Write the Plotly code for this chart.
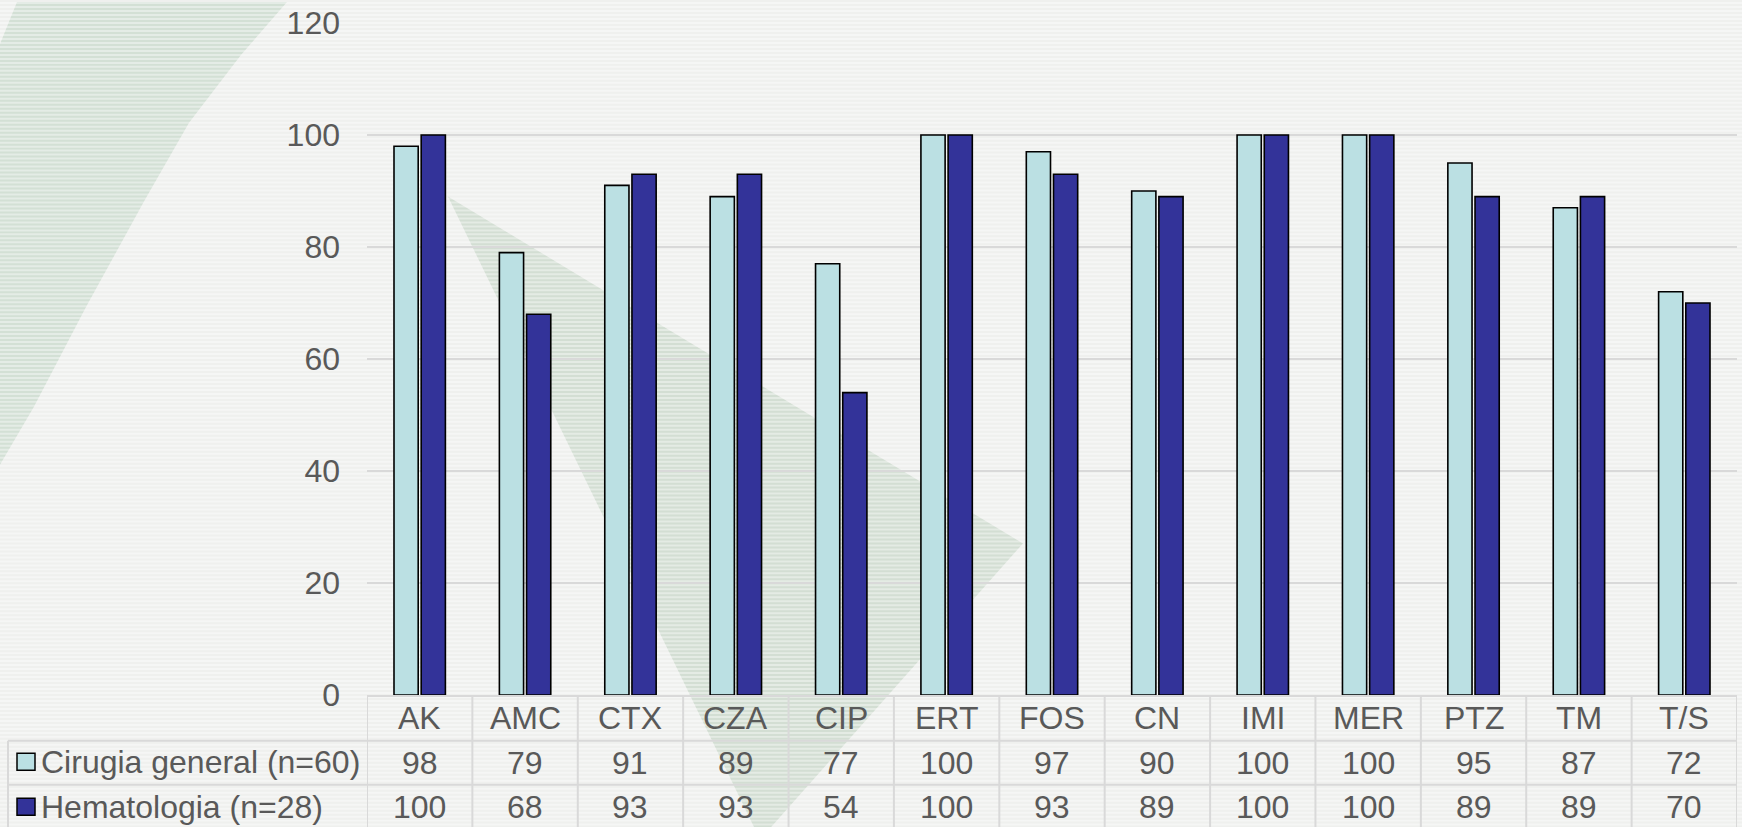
import plotly.graph_objects as go

categories = ["AK", "AMC", "CTX", "CZA", "CIP", "ERT", "FOS", "CN", "IMI", "MER", "PTZ", "TM", "T/S"]
series_names = ["Cirugia general (n=60)", "Hematologia (n=28)"]
cirugia = [98, 79, 91, 89, 77, 100, 97, 90, 100, 100, 95, 87, 72]
hemato = [100, 68, 93, 93, 54, 100, 93, 89, 100, 100, 89, 89, 70]
y_ticks = [0, 20, 40, 60, 80, 100, 120]

W, H = 1742, 827
L, R, T, B = 367, 5, 21, 132
PW = W - L - R
PH = H - T - B
FONT = "Liberation Sans, Arial, sans-serif"
FS = 32
TXT = "#595959"
GRID = "#d9d9d9"
LIGHT = "#bbe0e3"
DARK = "#333399"


def px(x):
    return (x - L) / PW


def py(y):
    return (H - B - y) / PH


fig = go.Figure()
fig.add_trace(go.Bar(x=categories, y=cirugia, name=series_names[0],
                     marker=dict(color=LIGHT, line=dict(color="#000000", width=1.6))))
fig.add_trace(go.Bar(x=categories, y=hemato, name=series_names[1],
                     marker=dict(color=DARK, line=dict(color="#000000", width=1.6))))

shapes = []
# decorative background shapes
cres = [(17, 0), (287, 0), (241, 53), (189, 121), (144, 200), (86, 306), (34, 406), (0, 464), (0, 42)]
path = "M " + " L ".join(f"{px(a):.4f},{py(b):.4f}" for a, b in cres) + " Z"
shapes.append(dict(type="path", path=path, xref="paper", yref="paper", layer="below",
                   fillcolor="#d3e0d5", line=dict(width=0)))
tri = [(448, 195), (1023, 543), (760, 840)]
path = "M " + " L ".join(f"{px(a):.4f},{py(b):.4f}" for a, b in tri) + " Z"
shapes.append(dict(type="path", path=path, xref="paper", yref="paper", layer="below",
                   fillcolor="#d3ded3", line=dict(width=0)))
# subtle horizontal stripes of the slide background
for yy in range(0, H, 4):
    shapes.append(dict(type="rect", xref="paper", yref="paper", x0=px(0), x1=px(W),
                       y0=py(yy), y1=py(yy + 2), layer="below",
                       fillcolor="rgba(255,255,255,0.40)", line=dict(width=0)))

# data table grid
row_tops = [696, 741, 785, 829]
n = len(categories)
shapes.append(dict(type="line", xref="paper", yref="paper", x0=0, x1=1, y0=py(696), y1=py(696),
                   line=dict(color=GRID, width=2)))
for yy in row_tops[1:]:
    shapes.append(dict(type="line", xref="paper", yref="paper", x0=px(8), x1=1, y0=py(yy), y1=py(yy),
                       line=dict(color=GRID, width=2)))
for i in range(n + 1):
    shapes.append(dict(type="line", xref="x", yref="paper", x0=i - 0.5, x1=i - 0.5,
                       y0=py(696), y1=py(829), line=dict(color=GRID, width=2)))
shapes.append(dict(type="line", xref="paper", yref="paper", x0=px(8), x1=px(8),
                   y0=py(741), y1=py(829), line=dict(color=GRID, width=2)))
# legend keys
for yc, col in [(762, LIGHT), (807, DARK)]:
    shapes.append(dict(type="rect", xref="paper", yref="paper", x0=px(17), x1=px(35),
                       y0=py(yc - 8.5), y1=py(yc + 8.5), fillcolor=col,
                       line=dict(color="#000000", width=1.5)))

ann = []
for c in categories:
    ann.append(dict(x=c, xref="x", y=py(718), yref="paper", text=c, showarrow=False,
                    font=dict(size=FS, color=TXT, family=FONT), yanchor="middle"))
for yc, vals in [(763, cirugia), (807, hemato)]:
    for c, v in zip(categories, vals):
        ann.append(dict(x=c, xref="x", y=py(yc), yref="paper", text=str(v), showarrow=False,
                        font=dict(size=FS, color=TXT, family=FONT), yanchor="middle"))
for yc, name in [(762, series_names[0]), (807, series_names[1])]:
    ann.append(dict(x=px(39), xref="paper", y=py(yc), yref="paper", text=name, showarrow=False,
                    xanchor="left", yanchor="middle",
                    font=dict(size=FS, color=TXT, family=FONT)))

fig.update_layout(
    width=W, height=H,
    margin=dict(l=L, r=R, t=T, b=B, pad=0),
    paper_bgcolor="#eff0ee",
    plot_bgcolor="rgba(0,0,0,0)",
    barmode="group", bargap=0.484, bargroupgap=0.11,
    showlegend=False,
    shapes=shapes, annotations=ann,
    font=dict(family=FONT, color=TXT, size=FS),
    xaxis=dict(showticklabels=False, showgrid=False, zeroline=False, showline=False,
               range=[-0.5, n - 0.5], ticks=""),
    yaxis=dict(range=[0, 120], tickvals=y_ticks, showgrid=True, gridcolor=GRID, gridwidth=2,
               zeroline=False, showline=False, ticks="", ticklabelstandoff=26,
               tickfont=dict(size=FS, color=TXT, family=FONT)),
)

fig.write_html("out.html", config={"displayModeBar": False},
               post_script="document.body.style.margin='0';document.body.style.overflow='hidden';")
